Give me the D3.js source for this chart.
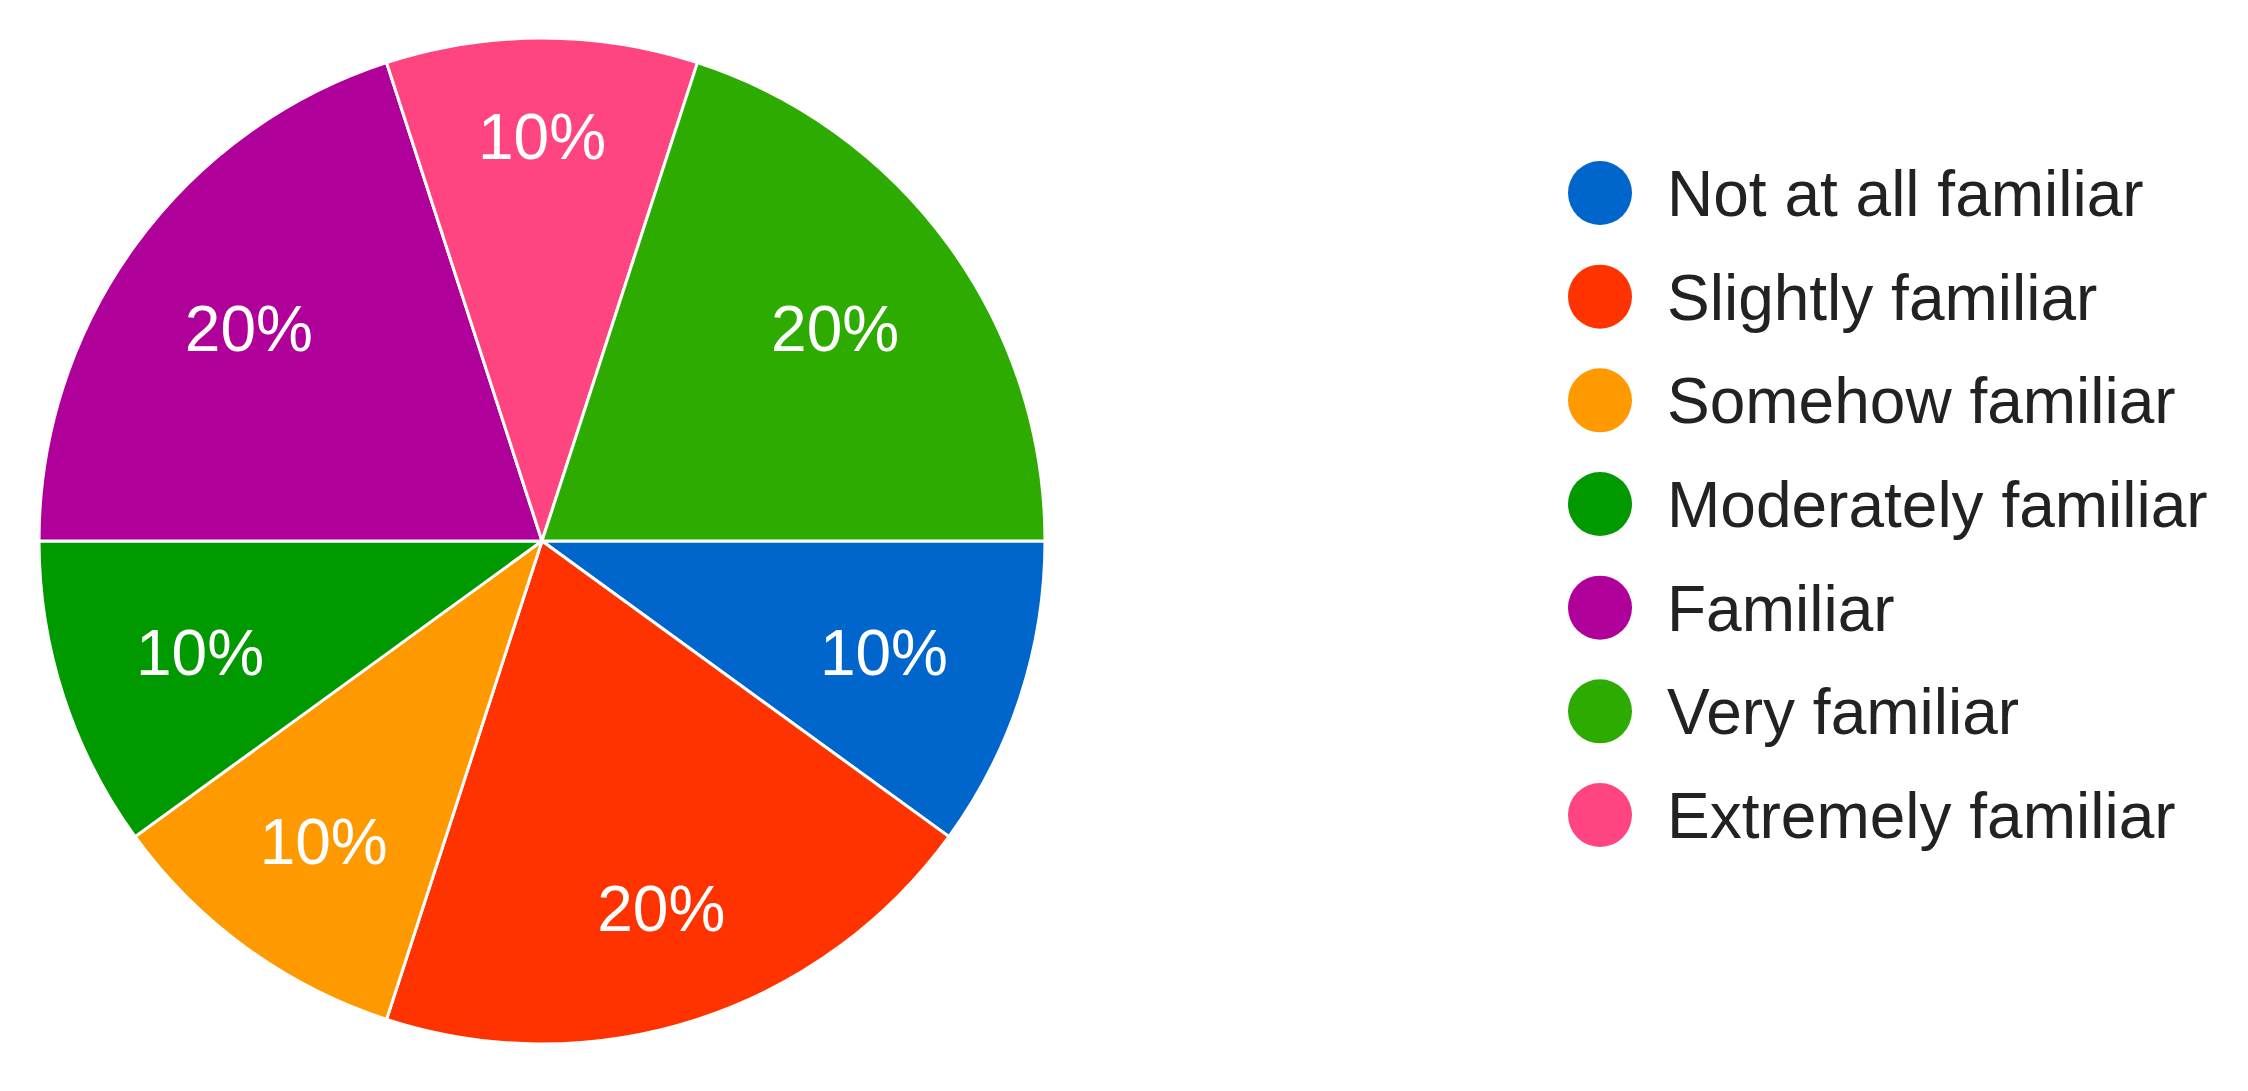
<!DOCTYPE html>
<html>
<head>
<meta charset="utf-8">
<script src="https://cdn.jsdelivr.net/npm/d3@7"></script>
<style>
  html, body { margin: 0; padding: 0; background: #fff; }
  svg { display: block; }
</style>
</head>
<body>
<svg width="2248" height="1091"></svg>
<script>
// Chart data (legend order)
const categories = [
  'Not at all familiar',
  'Slightly familiar',
  'Somehow familiar',
  'Moderately familiar',
  'Familiar',
  'Very familiar',
  'Extremely familiar',
]
const percents = [10, 20, 10, 10, 20, 20, 10]
const colors = ['#0066cc', '#ff3300', '#ff9900', '#009900', '#b0009a', '#2eab00', '#ff4580']
// order the slices go round the pie, clockwise from 3 o'clock
const sliceOrder = [
  'Not at all familiar',
  'Slightly familiar',
  'Somehow familiar',
  'Moderately familiar',
  'Familiar',
  'Extremely familiar',
  'Very familiar',
]

const svg = d3.select('svg')

// pie geometry
const cx = 542
const cy = 541
const radius = 503
const fontSize = 64
const capHeight = fontSize * 0.716

const data = categories.map((c, i) => ({ name: c, value: percents[i], color: colors[i] }))
const byName = new Map(data.map((d) => [d.name, d]))

const pie = d3
  .pie()
  .sort(null)
  .value((d) => d.value)
  .startAngle(Math.PI / 2) // first slice starts at 3 o'clock
  .endAngle(Math.PI / 2 + 2 * Math.PI)

const arcs = pie(sliceOrder.map((n) => byName.get(n)))

const arc = d3.arc().innerRadius(0).outerRadius(radius)

const g = svg.append('g').attr('transform', `translate(${cx},${cy})`)

g.selectAll('path')
  .data(arcs)
  .join('path')
  .attr('d', arc)
  .attr('fill', (d) => d.data.color)
  .attr('stroke', '#fff')
  .attr('stroke-width', 3)

// labels: the outer edge of each label box sits at a fixed radius
const labelReach = radius * 0.85
g.selectAll('text')
  .data(arcs)
  .join('text')
  .attr('text-anchor', 'middle')
  .attr('font-family', 'Liberation Sans, Arial, sans-serif')
  .attr('font-size', fontSize)
  .attr('fill', '#fff')
  .text((d) => d.data.value + '%')
  .attr('transform', function (d) {
    const w = this.getComputedTextLength()
    const a = (d.startAngle + d.endAngle) / 2
    const ux = Math.sin(a)
    const uy = -Math.cos(a)
    const extent = Math.abs(ux) * w / 2 + Math.abs(uy) * capHeight / 2
    const dist = labelReach - extent
    return `translate(${ux * dist},${uy * dist + capHeight / 2})`
  })

// legend
const legendX = 1600
const legendY = d3.scalePoint().domain(categories).range([193, 815])

const legend = svg
  .append('g')
  .selectAll('g')
  .data(data)
  .join('g')
  .attr('transform', (d) => `translate(${legendX},${legendY(d.name)})`)

legend.append('circle').attr('r', 32).attr('fill', (d) => d.color)

legend
  .append('text')
  .attr('x', 67)
  .attr('y', 23)
  .attr('font-family', 'Liberation Sans, Arial, sans-serif')
  .attr('font-size', fontSize)
  .attr('fill', '#222')
  .text((d) => d.name)
</script>
</body>
</html>
